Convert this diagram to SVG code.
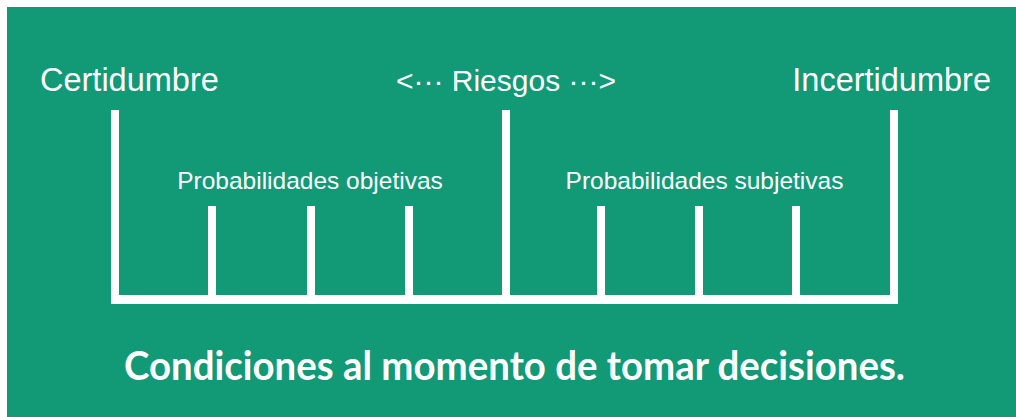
<svg xmlns="http://www.w3.org/2000/svg" width="1016" height="417" viewBox="0 0 1016 417">
<style>
.lbl{font-family:"Liberation Sans",Arial,sans-serif;fill:#ffffff}
.big{font-size:32.5px}
.mid{font-size:30px}
.small{font-size:24.5px}
.title{font-family:Lato,"Open Sans",sans-serif;font-weight:bold;font-size:40px;fill:#ffffff}
.bar{fill:#ffffff}
</style>
<rect x="0" y="0" width="1016" height="417" fill="#ffffff"/>
<rect x="7" y="7" width="1009" height="410" fill="#129a77"/>
<g id="scale">
<rect class="bar" x="111" y="110" width="8" height="194"/>
<rect class="bar" x="502" y="110" width="8" height="194"/>
<rect class="bar" x="890" y="110" width="8" height="194"/>
<rect class="bar" x="111" y="295" width="787" height="9"/>
<rect class="bar" x="208" y="206" width="8" height="92"/>
<rect class="bar" x="307" y="206" width="8" height="92"/>
<rect class="bar" x="405" y="206" width="8" height="92"/>
<rect class="bar" x="597" y="206" width="8" height="92"/>
<rect class="bar" x="695" y="206" width="8" height="92"/>
<rect class="bar" x="792" y="206" width="8" height="92"/>
</g>
<g id="certidumbre"><text class="lbl big" x="40" y="91">Certidumbre</text></g>
<g id="riesgos"><text class="lbl mid" x="506" y="91" text-anchor="middle">&lt;··· Riesgos ···&gt;</text></g>
<g id="incertidumbre"><text class="lbl big" x="991" y="91" text-anchor="end">Incertidumbre</text></g>
<g id="objetivas"><text class="lbl small" x="310" y="189" text-anchor="middle">Probabilidades objetivas</text></g>
<g id="subjetivas"><text class="lbl small" x="704.5" y="189" text-anchor="middle">Probabilidades subjetivas</text></g>
<g id="titulo"><text class="title" x="124" y="380" textLength="781" lengthAdjust="spacingAndGlyphs">Condiciones al momento de tomar decisiones.</text></g>
</svg>
